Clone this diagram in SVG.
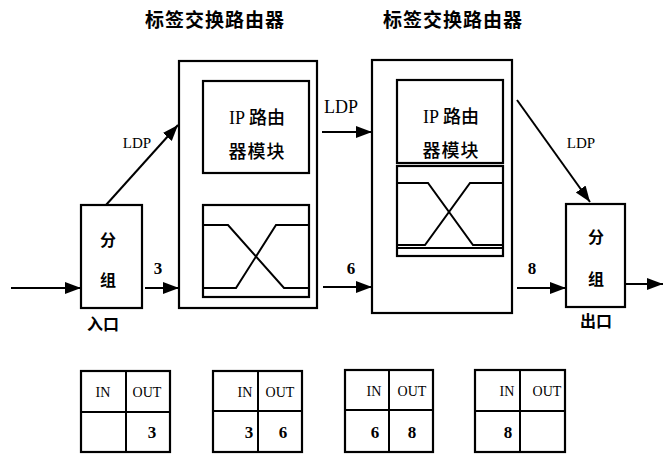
<svg xmlns="http://www.w3.org/2000/svg" width="669" height="454" viewBox="0 0 669 454">
<defs>
<marker id="ah" markerUnits="userSpaceOnUse" markerWidth="18" markerHeight="14" refX="16" refY="7" orient="auto">
<path d="M0,1 L16,7 L0,13 Z" fill="#000"/>
</marker>
<style>
.box{fill:none;stroke:#000;stroke-width:2.2}
.ln{fill:none;stroke:#000;stroke-width:2}
.arr{fill:none;stroke:#000;stroke-width:2;marker-end:url(#ah)}
.cjk{font-family:"Noto Sans CJK SC","Noto Sans CJK JP",sans-serif;fill:#000}
.ser{font-family:"Liberation Serif","DejaVu Serif",serif;fill:#000}
.title{font-size:19px;font-weight:bold;letter-spacing:1px}
.tbl{font-size:14px}
.num{font-size:17px;font-weight:bold}
.bd{font-weight:bold}
</style>
</defs>
<rect width="669" height="454" fill="#fff"/>

<g id="title1"><text class="cjk title" x="215" y="27" text-anchor="middle">标签交换路由器</text></g>
<g id="title2"><text class="cjk title" x="453" y="27" text-anchor="middle">标签交换路由器</text></g>

<g id="ingress">
<rect class="box" x="81" y="205" width="61" height="103"/>
<text class="cjk bd" x="108" y="246" font-size="16" text-anchor="middle">分</text>
<text class="cjk bd" x="108" y="286" font-size="16" text-anchor="middle">组</text>
<text class="cjk bd" x="103" y="330" font-size="16" text-anchor="middle">入口</text>
</g>

<g id="router1">
<rect class="box" x="179" y="61" width="138" height="247"/>
<rect class="box" x="203" y="81" width="106" height="92"/>
<text x="257" y="124" text-anchor="middle"><tspan class="ser" font-size="18">IP </tspan><tspan class="cjk" font-size="18" font-weight="500">路由</tspan></text>
<text class="cjk" x="257" y="158" font-size="18" font-weight="500" text-anchor="middle" letter-spacing="1">器模块</text>
<rect class="box" x="203" y="205" width="106" height="92"/>
<polyline class="ln" points="203,225 228,225 284,288 309,288"/>
<polyline class="ln" points="309,225 276,225 236,288 203,288"/>
</g>

<g id="router2">
<rect class="box" x="372" y="60" width="140" height="253"/>
<rect class="box" x="397" y="80" width="106" height="83"/>
<text x="451" y="123" text-anchor="middle"><tspan class="ser" font-size="18">IP </tspan><tspan class="cjk" font-size="18" font-weight="500">路由</tspan></text>
<text class="cjk" x="451" y="157" font-size="18" font-weight="500" text-anchor="middle" letter-spacing="1">器模块</text>
<rect class="box" x="397" y="166" width="106" height="90"/>
<polyline class="ln" points="397,183 428,183 473,245 503,245"/>
<polyline class="ln" points="503,183 470,183 425,245 397,245"/>
<line class="ln" x1="397" y1="248" x2="503" y2="248"/>
</g>

<g id="egress">
<rect class="box" x="566" y="204" width="59" height="103"/>
<text class="cjk bd" x="596" y="243" font-size="16" text-anchor="middle">分</text>
<text class="cjk bd" x="596" y="285" font-size="16" text-anchor="middle">组</text>
<text class="cjk bd" x="596" y="327" font-size="16" text-anchor="middle">出口</text>
</g>

<g id="connectors">
<line class="arr" x1="11" y1="288" x2="81" y2="288"/>
<line class="arr" x1="145" y1="288" x2="179" y2="288"/>
<line class="arr" x1="323" y1="287" x2="372" y2="287"/>
<line class="arr" x1="517" y1="288" x2="566" y2="288"/>
<line class="arr" x1="625" y1="284" x2="663" y2="284"/>
<line class="arr" x1="106" y1="205" x2="178" y2="125"/>
<line class="arr" x1="322" y1="132" x2="372" y2="132"/>
<line class="arr" x1="517" y1="100" x2="590" y2="202"/>
<text class="ser" x="137" y="148" font-size="15" text-anchor="middle">LDP</text>
<text class="ser" x="341" y="113" font-size="18" text-anchor="middle">LDP</text>
<text class="ser" x="581" y="148" font-size="15" text-anchor="middle">LDP</text>
<text class="ser num" x="158" y="274" text-anchor="middle">3</text>
<text class="ser num" x="351" y="274" text-anchor="middle">6</text>
<text class="ser num" x="532" y="274" text-anchor="middle">8</text>
</g>

<g id="table1">
<rect class="box" x="81" y="371" width="89" height="81"/>
<line class="ln" x1="126" y1="371" x2="126" y2="452"/>
<line class="ln" x1="81" y1="412" x2="170" y2="412"/>
<text class="ser tbl" x="103" y="397" text-anchor="middle">IN</text>
<text class="ser tbl" x="147" y="397" text-anchor="middle">OUT</text>
<text class="ser num" x="152" y="438" text-anchor="middle">3</text>
</g>
<g id="table2">
<rect class="box" x="213" y="371" width="89" height="81"/>
<line class="ln" x1="258" y1="371" x2="258" y2="452"/>
<line class="ln" x1="213" y1="411" x2="302" y2="411"/>
<text class="ser tbl" x="245" y="397" text-anchor="middle">IN</text>
<text class="ser tbl" x="280" y="397" text-anchor="middle">OUT</text>
<text class="ser num" x="249" y="438" text-anchor="middle">3</text>
<text class="ser num" x="283" y="438" text-anchor="middle">6</text>
</g>
<g id="table3">
<rect class="box" x="345" y="370" width="88" height="82"/>
<line class="ln" x1="389" y1="370" x2="389" y2="452"/>
<line class="ln" x1="345" y1="410" x2="433" y2="410"/>
<text class="ser tbl" x="374" y="396" text-anchor="middle">IN</text>
<text class="ser tbl" x="412" y="396" text-anchor="middle">OUT</text>
<text class="ser num" x="375" y="438" text-anchor="middle">6</text>
<text class="ser num" x="412" y="438" text-anchor="middle">8</text>
</g>
<g id="table4">
<rect class="box" x="475" y="370" width="90" height="82"/>
<line class="ln" x1="520" y1="370" x2="520" y2="452"/>
<line class="ln" x1="475" y1="411" x2="565" y2="411"/>
<text class="ser tbl" x="507" y="396" text-anchor="middle">IN</text>
<text class="ser tbl" x="547" y="396" text-anchor="middle">OUT</text>
<text class="ser num" x="508" y="438" text-anchor="middle">8</text>
</g>
</svg>
